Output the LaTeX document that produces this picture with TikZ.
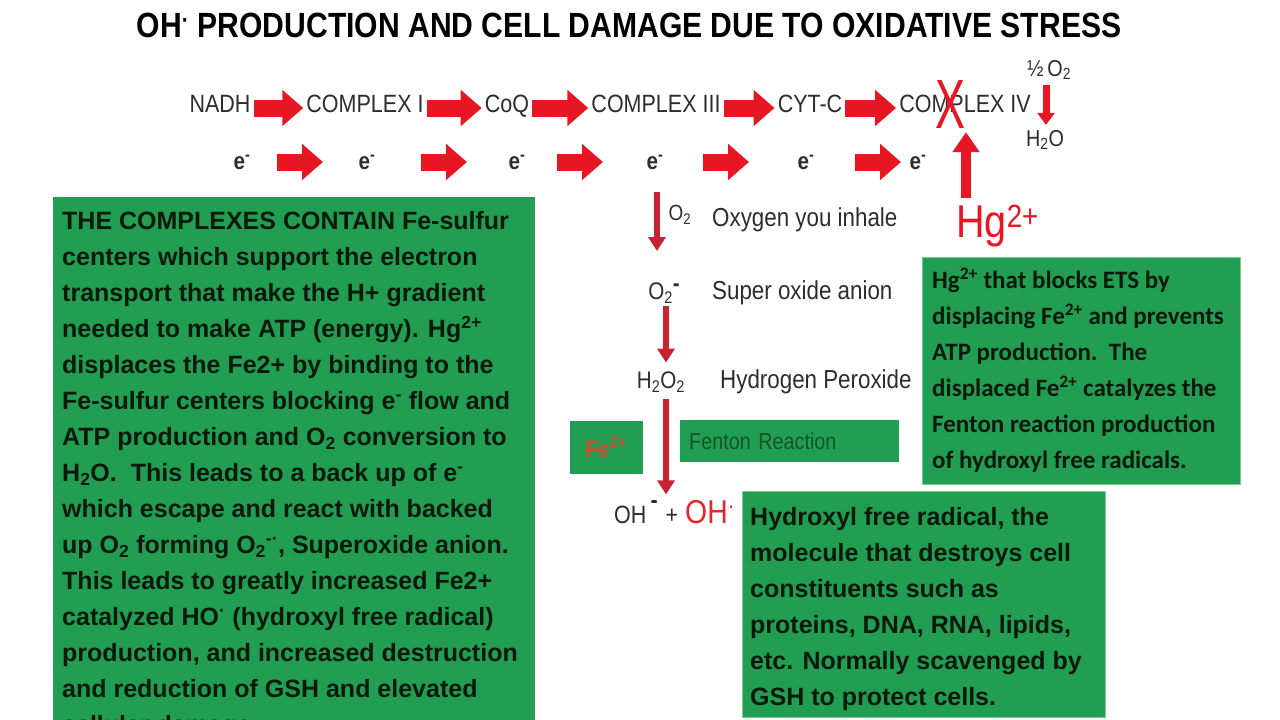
\documentclass[tikz,border=0pt]{standalone}
\usepackage{fontspec}
\usepackage{graphicx}
\setmainfont{Liberation Sans}
\newfontfamily\narrow[FakeStretch=0.86]{Liberation Sans}
\newfontfamily\calib{Carlito}
\usetikzlibrary{arrows.meta}
\definecolor{boxgreen}{RGB}{33,158,82}
\definecolor{boxedge}{RGB}{120,205,150}
\definecolor{boxtxt}{RGB}{10,25,12}
\definecolor{txtgrey}{RGB}{45,45,45}
\definecolor{arrowred}{RGB}{232,22,35}
\definecolor{darkred}{RGB}{200,35,50}
\definecolor{fentontxt}{RGB}{20,85,40}
\definecolor{feorange}{RGB}{215,75,45}
\definecolor{ohred}{RGB}{226,40,40}
\begin{document}
\begin{tikzpicture}[x=1pt,y=-1pt,
  rowtext/.style={font=\narrow\fontsize{25}{25}\selectfont, text=txtgrey, inner sep=1pt, anchor=base},
  etext/.style={font=\narrow\bfseries\fontsize{24}{24}\selectfont, text=txtgrey, inner sep=0pt},
  midtext/.style={font=\narrow\fontsize{26}{26}\selectfont, text=txtgrey, inner sep=0pt},
  bigarrow/.style={draw=arrowred, line width=17pt, -{Triangle[length=21pt,width=35pt]}},
  thinarrow/.style={draw=darkred, line width=6pt, -{Triangle[length=14pt,width=17pt]}},
  boxtext/.style={font=\bfseries\fontsize{25}{36}\selectfont, text=boxtxt, align=left, inner sep=0pt, anchor=north west},
]
\useasboundingbox (0,0) rectangle (1280,720);
\clip (0,0) rectangle (1280,720);
\fill[white] (0,0) rectangle (1280,720);

% title
\node (title) at (629,25) {\scalebox{0.86}[1]{\bfseries\fontsize{35}{35}\selectfont OH\textsuperscript{·} PRODUCTION AND CELL DAMAGE DUE TO OXIDATIVE STRESS}};

% row 1
\node[rowtext] (nadh) at (220,112) {NADH};
\node[rowtext] (c1) at (365,112) {COMPLEX I};
\node[rowtext] (coq) at (507,112) {CoQ};
\node[rowtext] (c3) at (656,112) {COMPLEX III};
\node[rowtext] (cytc) at (810,112) {CYT-C};
\node[rowtext] (c4) at (965,112) {COMPLEX IV};
\foreach \a/\b in {nadh/c1,c1/coq,coq/c3,c3/cytc,cytc/c4}
  \draw[bigarrow, shorten <=2pt, shorten >=2pt] ([yshift=4pt]\a.base east) -- ([yshift=4pt]\b.base west);

\node[font=\narrow\fontsize{23}{23}\selectfont, text=txtgrey, inner sep=1pt] (half) at (1049,70) {½\,O\textsubscript{2}};
\node[font=\narrow\fontsize{23}{23}\selectfont, text=txtgrey, inner sep=1pt] (water) at (1045,140) {H\textsubscript{2}O};
\draw[draw=arrowred, line width=7pt, -{Triangle[length=12pt,width=17pt]}, shorten <=4pt, shorten >=4pt] (half.south -| 1046,0) -- (water.north -| 1046,0);

% row 2
\node[etext] (e1) at (242,162) {e\textsuperscript{-}};
\node[etext] (e2) at (367,162) {e\textsuperscript{-}};
\node[etext] (e3) at (517,162) {e\textsuperscript{-}};
\node[etext] (e4) at (655,162) {e\textsuperscript{-}};
\node[etext] (e5) at (806,162) {e\textsuperscript{-}};
\node[etext] (e6) at (918,162) {e\textsuperscript{-}};
\draw[bigarrow, shorten <=35pt, shorten >=44pt] (e1.center) -- (e2.center);
\draw[bigarrow, shorten <=54pt, shorten >=50pt] (e2.center) -- (e3.center);
\draw[bigarrow, shorten <=40pt, shorten >=52pt] (e3.center) -- (e4.center);
\draw[bigarrow, shorten <=48pt, shorten >=57pt] (e4.center) -- (e5.center);
\draw[bigarrow, shorten <=49pt, shorten >=17pt] (e5.center) -- (e6.center);

% Hg block
\node[text=arrowred, inner sep=0pt] (xmark) at (950,104) {\resizebox{30pt}{48pt}{\narrow X}};
\node[font=\narrow\fontsize{46}{46}\selectfont, text=arrowred, inner sep=0pt, anchor=base west] (hg) at (956,237) {Hg\textsuperscript{2+}};
\coordinate (hgtop) at (966,198);
\draw[draw=arrowred, line width=10pt, -{Triangle[length=20pt,width=26pt]}, shorten >=4pt] (hgtop) -- (hgtop |- xmark.south);

% vertical chain
\node[font=\narrow\fontsize{22}{22}\selectfont, text=txtgrey, inner sep=0pt] (o2lab) at (680,215) {O\textsubscript{2}};
\node[midtext, anchor=west] (inhale) at (712,220) {Oxygen you inhale};
\node[font=\narrow\fontsize{24}{24}\selectfont, text=txtgrey, inner sep=1pt] (o2m) at (664,293) {O\textsubscript{2}\raisebox{8pt}{\bfseries -}};
\node[midtext, anchor=west] (superox) at (712,293) {Super oxide anion};
\node[font=\narrow\fontsize{24}{24}\selectfont, text=txtgrey, inner sep=1pt] (h2o2) at (661,382) {H\textsubscript{2}O\textsubscript{2}};
\node[midtext, anchor=west] (perox) at (720,382) {Hydrogen Peroxide};

\node[fill=boxgreen, minimum width=73pt, minimum height=53pt, inner sep=0pt, text=feorange, font=\narrow\bfseries\fontsize{24}{24}\selectfont] (fe) at (606,447) {Fe\textsuperscript{2+}};
\node[fill=boxgreen, anchor=north west, minimum height=42pt, text width=201pt, inner xsep=9pt, inner ysep=0pt, align=left, text=fentontxt, font=\narrow\fontsize{23}{23}\selectfont] (fenton) at (680,420) {Fenton Reaction};

\node[font=\narrow\fontsize{25}{25}\selectfont, text=txtgrey, inner sep=0pt, anchor=base] (ohm) at (636,523) {OH\,\raisebox{15pt}{\bfseries -}};
\node[font=\narrow\fontsize{25}{25}\selectfont, text=txtgrey, inner sep=0pt, anchor=base] (plus) at (672,523) {+};
\node[font=\narrow\fontsize{33}{33}\selectfont, text=ohred, inner sep=0pt, anchor=base west] (ohr) at (685,523) {OH\textsuperscript{·}};

\draw[thinarrow, shorten <=30pt, shorten >=1pt] ([xshift=2pt]e4.center) -- ([xshift=2pt]e4.center |- 0,252);
\draw[thinarrow, shorten <=2pt, shorten >=8pt] ([xshift=2pt]o2m.south) -- ([xshift=2pt]o2m.south |- h2o2.north);
\draw[thinarrow, shorten <=6pt, shorten >=14pt] ([xshift=5pt]h2o2.south) -- ([xshift=5pt]h2o2.south |- plus.north);

% left box
\fill[boxgreen] (53,197) rectangle (535,740);
\node[boxtext] (lefttext) at (62,211) {THE COMPLEXES CONTAIN Fe-sulfur\\
centers which support the electron\\
transport that make the H+ gradient\\
needed to make ATP (energy). Hg\textsuperscript{2+}\\
displaces the Fe2+ by binding to the\\
Fe-sulfur centers blocking e\textsuperscript{-} flow and\\
ATP production and O\textsubscript{2} conversion to\\
H\textsubscript{2}O.\ \ This leads to a back up of e\textsuperscript{-}\\
which escape and react with backed\\
up O\textsubscript{2} forming O\textsubscript{2}\textsuperscript{-·}, Superoxide anion.\\
This leads to greatly increased Fe2+\\
catalyzed HO\textsuperscript{·} (hydroxyl free radical)\\
production, and increased destruction\\
and reduction of GSH and elevated\\
cellular damage.};

% right box
\fill[boxgreen, draw=boxedge, line width=1pt] (922,257) rectangle (1240,484);
\node[boxtext, font=\calib\bfseries\fontsize{25}{36}\selectfont] (righttext) at (932,268) {Hg\textsuperscript{2+} that blocks ETS by\\
displacing Fe\textsuperscript{2+} and prevents\\
ATP production.\ \ The\\
displaced Fe\textsuperscript{2+} catalyzes the\\
Fenton reaction production\\
of hydroxyl free radicals.};

% bottom box
\fill[boxgreen, draw=boxedge, line width=1pt] (742,491) rectangle (1105,717);
\node[boxtext] (bottomtext) at (750,507) {Hydroxyl free radical, the\\
molecule that destroys cell\\
constituents such as\\
proteins, DNA, RNA, lipids,\\
etc. Normally scavenged by\\
GSH to protect cells.};
\end{tikzpicture}
\end{document}
